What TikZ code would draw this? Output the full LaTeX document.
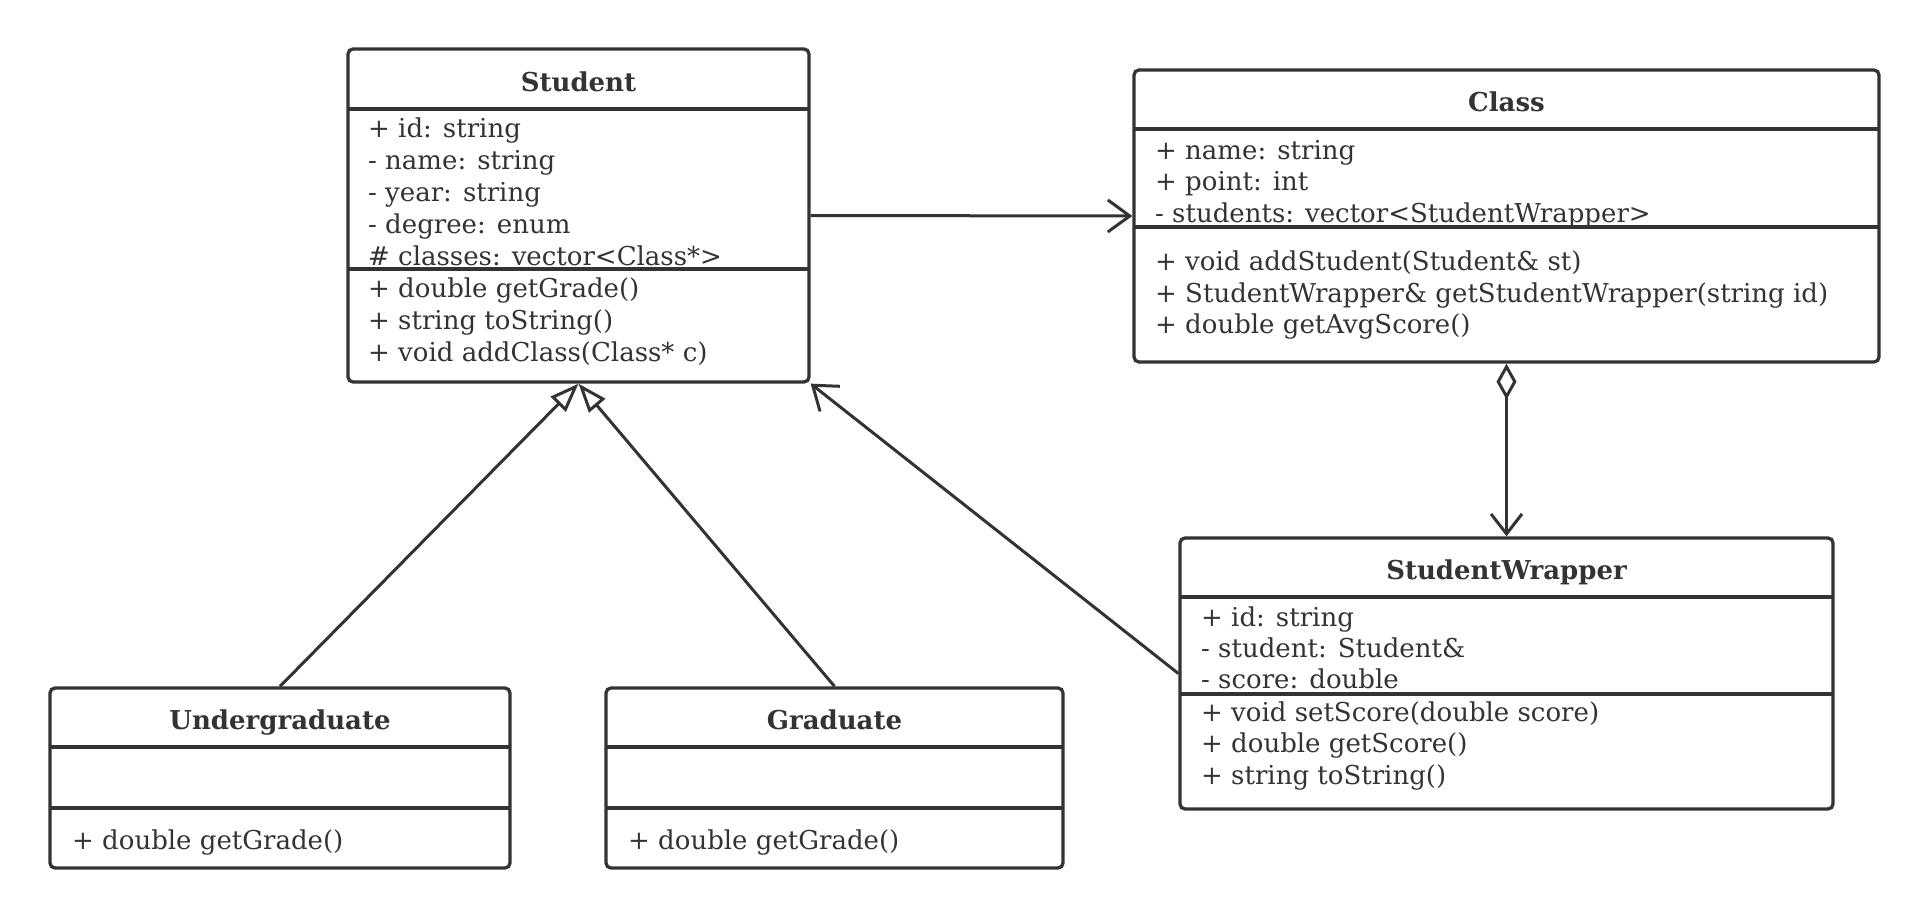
\documentclass[tikz,border=0pt]{standalone}
\usepackage{fontspec}
\setmainfont{DejaVu Serif}
\usetikzlibrary{arrows.meta}
\definecolor{ink}{HTML}{333333}
\begin{document}
\begin{tikzpicture}[x=1pt,y=-1pt,
  box/.style={draw=ink, line width=3.3pt, rounded corners=5pt, inner sep=0pt},
  sepline/.style={draw=ink, line width=3.3pt},
  ctitle/.style={font=\fontsize{26}{31}\selectfont\bfseries, text=ink, anchor=base, inner sep=0pt},
  item/.style={font=\fontsize{26}{31}\selectfont, text=ink, anchor=base west, inner sep=0pt},
  conn/.style={draw=ink, line width=3pt},
  openhead/.style={-{Straight Barb[length=22pt,width=32pt]}},
  inherit/.style={-{Triangle[open,length=29pt,width=21pt]}},
]
\useasboundingbox (0,0) rectangle (1930,918);

% ---------- Student ----------
\node[box, minimum width=461pt, minimum height=333pt] (student) at (578.5,215.5) {};
\draw[sepline] (348,109) -- (809,109);
\draw[sepline] (348,269) -- (809,269);
\node[ctitle] (studentT) at (578.5,91) {Student};
\node[item] (s1) at (368,137) {+ id: string};
\node[item] (s2) at (368,169) {- name: string};
\node[item] (s3) at (368,201) {- year: string};
\node[item] (s4) at (368,233) {- degree: enum};
\node[item] (s5) at (368,265) {\# classes: vector<Class*>};
\node[item] (s6) at (368,297) {+ double getGrade()};
\node[item] (s7) at (368,329) {+ string toString()};
\node[item] (s8) at (368,361) {+ void addClass(Class* c)};

% ---------- Class ----------
\node[box, minimum width=745pt, minimum height=292pt] (class) at (1506.5,216) {};
\draw[sepline] (1134,129) -- (1879,129);
\draw[sepline] (1134,227) -- (1879,227);
\node[ctitle] (classT) at (1506.5,111) {Class};
\node[item] (c1) at (1155,159) {+ name: string};
\node[item] (c2) at (1155,190) {+ point: int};
\node[item] (c3) at (1155,222) {- students: vector<StudentWrapper>};
\node[item] (c4) at (1155,270) {+ void addStudent(Student\& st)};
\node[item] (c5) at (1155,302) {+ StudentWrapper\& getStudentWrapper(string id)};
\node[item] (c6) at (1155,333) {+ double getAvgScore()};

% ---------- StudentWrapper ----------
\node[box, minimum width=653pt, minimum height=271pt] (sw) at (1506.5,673.5) {};
\draw[sepline] (1180,597) -- (1833,597);
\draw[sepline] (1180,694) -- (1833,694);
\node[ctitle] (swT) at (1506.5,579.5) {StudentWrapper};
\node[item] (w1) at (1201,626) {+ id: string};
\node[item] (w2) at (1201,657) {- student: Student\&};
\node[item] (w3) at (1201,688) {- score: double};
\node[item] (w4) at (1201,721) {+ void setScore(double score)};
\node[item] (w5) at (1201,752) {+ double getScore()};
\node[item] (w6) at (1201,784) {+ string toString()};

% ---------- Undergraduate ----------
\node[box, minimum width=460pt, minimum height=180pt] (ug) at (280,778) {};
\draw[sepline] (50,747) -- (510,747);
\draw[sepline] (50,808) -- (510,808);
\node[ctitle] (ugT) at (280,729.5) {Undergraduate};
\node[item] (u1) at (72,849) {+ double getGrade()};

% ---------- Graduate ----------
\node[box, minimum width=457pt, minimum height=180pt] (gr) at (834.5,778) {};
\draw[sepline] (606,747) -- (1063,747);
\draw[sepline] (606,808) -- (1063,808);
\node[ctitle] (grT) at (834.5,729.5) {Graduate};
\node[item] (g1) at (628,849) {+ double getGrade()};

% ---------- Connectors ----------
\draw[conn, openhead] (student.east) -- (class.west);
\draw[conn, {Diamond[open,length=36pt,width=20pt]}-{Straight Barb[length=20pt,width=31pt]}] (class.south) -- (sw.north);
\draw[conn, openhead] (sw.west) -- (student.south east);
\draw[conn, inherit] (ug.north) -- (student.south);
\draw[conn, inherit] (gr.north) -- (student.south);
\end{tikzpicture}
\end{document}
